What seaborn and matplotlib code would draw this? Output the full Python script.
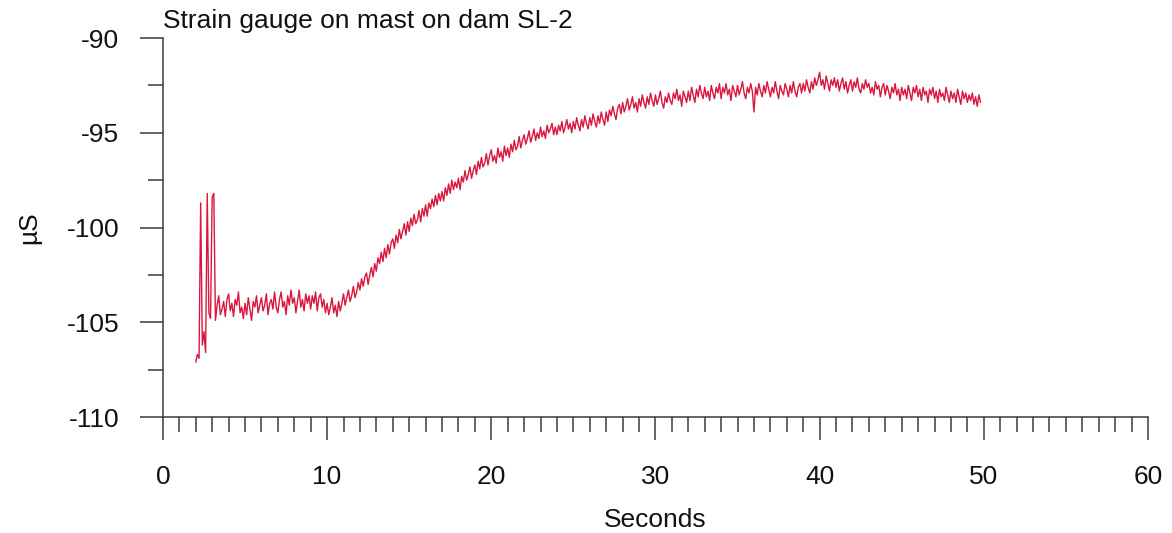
import numpy as np
import matplotlib
matplotlib.use("Agg")
import matplotlib.pyplot as plt
import seaborn as sns
from matplotlib.ticker import MultipleLocator

# Strain gauge readings (uS), sampled every 0.1 s starting at 2.0 s
t_start = 2.0
dt = 0.1
strain = [
    # 2 s
    -107.1, -106.7, -106.9, -98.7, -106.2, -105.5, -106.6, -98.2, -104.5, -104.8,
    # 3 s
    -98.4, -98.2, -104.9, -104.1, -103.6, -104.6, -104.3, -103.9, -104.7, -103.8,
    -103.5, -104.4, -104.0, -104.7, -103.8, -104.1, -103.4, -104.5, -104.2, -104.8,
    -104.0, -104.6, -103.7, -104.3, -104.9, -103.9, -104.2, -103.6, -104.5, -104.1,
    -103.7, -104.4, -104.1, -103.5, -104.6, -104.0, -103.8, -104.3, -103.4, -104.2,
    -104.5, -103.8, -103.4, -104.2, -103.9, -104.6, -103.6, -104.1, -103.3, -104.0,
    -103.7, -104.5, -103.9, -103.3, -104.2, -103.8, -104.4, -103.5, -104.0, -103.6,
    -104.3, -103.6, -104.0, -103.4, -104.4, -103.7, -103.5, -104.2, -103.8, -104.5,
    # 10 s
    -104.0, -104.6, -104.2, -103.7, -104.5, -104.1, -104.7, -103.9, -104.4, -104.0,
    -103.5, -104.1, -103.7, -103.3, -103.9, -103.6, -103.1, -103.7, -103.4, -102.9,
    -103.3, -102.7, -103.1, -102.6, -102.4, -103.0, -102.5, -102.1, -102.6, -101.9,
    -102.3, -101.6, -101.9, -101.3, -101.8, -101.1, -101.6, -100.9, -101.4, -100.8,
    -100.6, -101.1, -100.4, -100.8, -100.1, -100.6, -100.2, -99.8, -100.4, -99.7,
    -100.2, -99.5, -99.9, -99.3, -99.8, -99.6, -99.1, -99.7, -99.0, -99.4,
    -98.8, -99.4, -98.7, -99.0, -98.5, -98.9, -98.3, -98.8, -98.2, -98.6,
    -98.1, -98.6, -97.9, -98.3, -97.7, -98.2, -97.5, -98.0, -97.6, -97.9,
    -97.4, -98.0, -97.3, -97.6, -97.0, -97.5, -97.2, -96.8, -97.4, -97.0,
    -96.7, -97.2, -96.5, -96.9, -96.3, -96.8, -96.6, -96.1, -96.7, -96.2,
    # 20 s
    -95.9, -96.5, -96.2, -96.6, -95.8, -96.3, -96.0, -96.5, -95.7, -96.2,
    -95.8, -96.3, -95.6, -96.0, -95.4, -95.9, -95.7, -95.2, -95.8, -95.4,
    -95.1, -95.6, -95.3, -94.9, -95.5, -95.2, -94.8, -95.4, -95.0, -95.3,
    -94.7, -95.2, -94.9, -95.3, -94.6, -95.0, -94.8, -94.5, -95.1, -94.7,
    -95.1, -94.6, -94.9, -94.4, -95.0, -94.7, -94.3, -94.8, -94.5, -95.0,
    -94.4, -94.8, -94.2, -94.6, -94.9, -94.3, -94.7, -94.1, -94.5, -94.8,
    -94.2, -94.6, -94.0, -94.4, -94.7, -94.1, -94.5, -93.9, -94.3, -94.6,
    -93.9, -94.4, -93.8, -94.1, -93.6, -94.0, -94.3, -93.7, -93.5, -94.0,
    -93.4, -93.9, -93.6, -93.2, -93.8, -93.5, -93.1, -93.7, -93.4, -93.9,
    -93.2, -93.6, -93.0, -93.4, -93.7, -93.1, -93.5, -92.9, -93.3, -93.6,
    # 30 s
    -93.0, -93.5, -93.2, -92.8, -93.4, -93.7, -93.1, -93.4, -92.9, -93.3,
    -93.5, -92.9, -93.2, -92.7, -93.3, -93.0, -93.6, -92.8, -93.1, -93.4,
    -92.8, -93.3, -92.6, -93.0, -93.4, -92.7, -93.1, -92.5, -92.9, -93.2,
    -92.6, -93.1, -92.8, -93.3, -92.5, -92.9, -93.2, -92.6, -92.9, -92.4,
    -93.2, -92.6, -92.9, -92.4, -93.0, -92.7, -93.3, -92.5, -92.8, -93.1,
    -92.5, -93.0, -92.7, -92.3, -92.9, -93.2, -92.6, -92.9, -92.4, -92.8,
    -93.9, -92.6, -93.0, -92.4, -92.8, -93.1, -92.5, -92.9, -92.3, -92.7,
    -93.1, -92.6, -92.9, -92.3, -92.8, -93.2, -92.5, -92.8, -93.0, -92.4,
    -92.7, -93.1, -92.5, -92.9, -92.3, -92.8, -93.1, -92.6, -92.4, -92.9,
    -92.4, -92.8, -92.2, -92.6, -92.9, -92.3, -92.7, -92.1, -92.5, -92.2,
    # 40 s
    -91.8, -92.5, -92.2, -92.7, -92.0, -92.4, -92.8, -92.2, -92.5, -92.1,
    -92.6, -92.2, -92.8, -92.4, -92.1, -92.7, -92.3, -92.9, -92.5, -92.2,
    -92.8, -92.3, -92.6, -92.1, -92.7, -92.9, -92.4, -92.7, -92.2, -92.6,
    -92.4, -92.9, -92.6, -93.0, -92.3, -92.7, -92.5, -93.1, -92.6, -92.4,
    -93.0, -92.5, -92.8, -93.2, -92.6, -92.9, -92.4, -93.0, -92.7, -93.3,
    -92.6, -93.0, -92.7, -93.2, -92.5, -92.9, -93.3, -92.6, -92.9, -92.5,
    -93.1, -92.7, -93.3, -92.6, -93.0, -92.8, -93.4, -92.7, -93.0, -92.6,
    -93.2, -92.8, -93.4, -92.7, -93.1, -92.9, -93.3, -92.6, -93.0, -93.4,
    -92.8, -93.2, -92.9, -93.4, -92.7, -93.1, -93.5, -92.8, -93.2, -92.9,
    -93.4, -93.0, -93.3, -92.9, -93.5, -93.1, -93.6, -93.0, -93.4,
]
seconds = t_start + dt * np.arange(len(strain))

title = "Strain gauge on mast on dam SL-2"
x_label = "Seconds"
y_label = "µS"

sns.set_style("ticks")
plt.rcParams['font.family'] = ['Liberation Sans', 'DejaVu Sans']
plt.rcParams['axes.unicode_minus'] = False

fig = plt.figure(figsize=(11.72, 5.33), dpi=100)
ax = fig.add_axes([0.139, 0.2176, 0.8405, 0.711])

sns.lineplot(x=seconds, y=strain, ax=ax, color='#d9163e', linewidth=1.0)

ax.set_xlim(0, 60)
ax.set_ylim(-110, -90)
ax.xaxis.set_major_locator(MultipleLocator(10))
ax.xaxis.set_minor_locator(MultipleLocator(1))
ax.yaxis.set_major_locator(MultipleLocator(5))
ax.yaxis.set_minor_locator(MultipleLocator(2.5))

sns.despine(ax=ax)
for side in ['left', 'bottom']:
    ax.spines[side].set_color('#3a3a3a')
    ax.spines[side].set_linewidth(1.1)

ax.tick_params(which='major', length=16.5, width=1.1, color='#3a3a3a',
               labelsize=19, pad=15, labelcolor='#111111')
ax.tick_params(which='minor', length=11, width=1.1, color='#3a3a3a')
ax.tick_params(axis='x', which='major', pad=18)

ax.set_title(title, loc='left', fontsize=19, pad=7, color='#111111')
ax.set_xlabel(x_label, fontsize=19, labelpad=14, color='#111111')
ax.set_ylabel(y_label, fontsize=19, labelpad=18, color='#111111')

fig.savefig('out.png', dpi=100)
plt.close(fig)
